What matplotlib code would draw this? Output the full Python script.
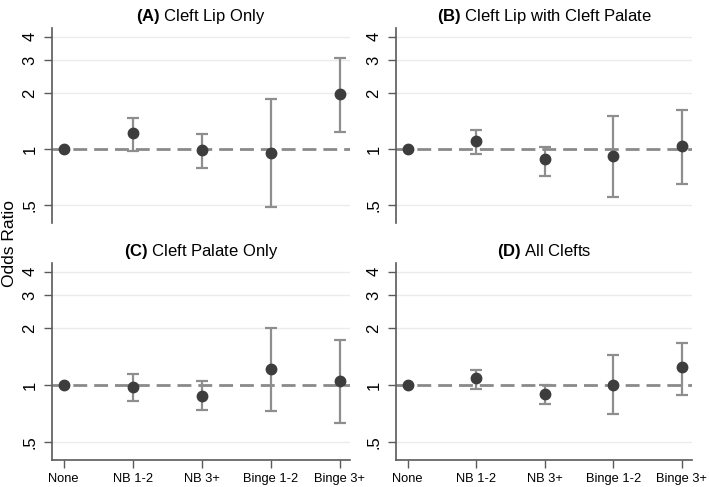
import matplotlib.pyplot as plt
import numpy as np

plt.rcParams['font.family'] = ['Liberation Sans', 'DejaVu Sans']
plt.rcParams['mathtext.fontset'] = 'custom'
plt.rcParams['mathtext.bf'] = 'Liberation Sans:bold'
plt.rcParams['mathtext.rm'] = 'Liberation Sans'

# data
categories = ["None", "NB 1-2", "NB 3+", "Binge 1-2", "Binge 3+"]
titles = ["(A)", "(B)", "(C)", "(D)"]
subtitles = ["Cleft Lip Only", "Cleft Lip with Cleft Palate", "Cleft Palate Only", "All Clefts"]

or_a = [1.00, 1.22, 0.99, 0.95, 1.97]
lo_a = [1.00, 0.98, 0.79, 0.49, 1.23]
hi_a = [1.00, 1.46, 1.21, 1.86, 3.08]

or_b = [1.00, 1.10, 0.88, 0.92, 1.04]
lo_b = [1.00, 0.94, 0.72, 0.55, 0.65]
hi_b = [1.00, 1.27, 1.02, 1.51, 1.62]

or_c = [1.00, 0.98, 0.88, 1.22, 1.05]
lo_c = [1.00, 0.82, 0.74, 0.73, 0.63]
hi_c = [1.00, 1.15, 1.05, 2.02, 1.74]

or_d = [1.00, 1.09, 0.90, 1.00, 1.25]
lo_d = [1.00, 0.95, 0.79, 0.70, 0.89]
hi_d = [1.00, 1.20, 1.00, 1.45, 1.68]

yticks = [0.5, 1, 2, 3, 4]
ytick_labels = [".5", "1", "2", "3", "4"]

POINT = "#3d3d3d"
BAR = "#8e8e8e"
AXIS = "#5a5a5a"
GRID = "#ebebeb"

fig = plt.figure(figsize=(7.09, 4.87), dpi=100)
fig.patch.set_facecolor("white")

# axes boxes in figure fractions [left, bottom, width, height]
boxes = [
    [0.0733, 0.542, 0.4204, 0.400],
    [0.5585, 0.542, 0.4175, 0.400],
    [0.0733, 0.0554, 0.4204, 0.4046],
    [0.5585, 0.0554, 0.4175, 0.4046],
]
panels = [(or_a, lo_a, hi_a), (or_b, lo_b, hi_b), (or_c, lo_c, hi_c), (or_d, lo_d, hi_d)]

x = np.arange(len(categories))
for i, (box, (ors, los, his)) in enumerate(zip(boxes, panels)):
    ax = fig.add_axes(box)
    ax.set_yscale("log")
    ax.set_ylim(0.4, 4.45)
    ax.set_xlim(-0.17, 4.15)

    for t in [0.5, 2, 3, 4]:
        ax.axhline(t, color=GRID, lw=1.0, zorder=0)
    ax.axhline(1, color="#8a8a8a", lw=2.0, ls=(0, (5, 2.5)), zorder=1)

    ors = np.array(ors)
    yerr = np.array([ors - np.array(los), np.array(his) - ors])
    ax.errorbar(x[1:], ors[1:], yerr=yerr[:, 1:], fmt="none", ecolor=BAR,
                elinewidth=1.6, capsize=4.2, capthick=1.6, zorder=2)
    ax.plot(x, ors, "o", color=POINT, ms=7.5, zorder=3)

    ax.set_yticks(yticks)
    ax.set_yticklabels(ytick_labels, rotation=90, va="center", fontsize=12)
    ax.yaxis.set_minor_locator(plt.NullLocator())
    ax.tick_params(axis="y", length=5.5, width=1, color=AXIS, pad=5)

    for s in ["top", "right"]:
        ax.spines[s].set_visible(False)
    ax.spines["left"].set_color(AXIS)
    ax.spines["left"].set_linewidth(1.2)

    if i >= 2:
        ax.set_xticks(x)
        ax.set_xticklabels(categories, fontsize=9.3)
        ax.tick_params(axis="x", length=5.5, width=1, color=AXIS, pad=4)
        ax.spines["bottom"].set_color(AXIS)
        ax.spines["bottom"].set_linewidth(1.2)
    else:
        ax.set_xticks([])
        ax.spines["bottom"].set_visible(False)

    ax.set_title(r"$\bf{" + titles[i] + "}$ " + subtitles[i], fontsize=12, pad=5)

fig.text(0.014, 0.5, "Odds Ratio", rotation=90, va="center", ha="center", fontsize=12.5)

fig.savefig("out.png", dpi=100)
